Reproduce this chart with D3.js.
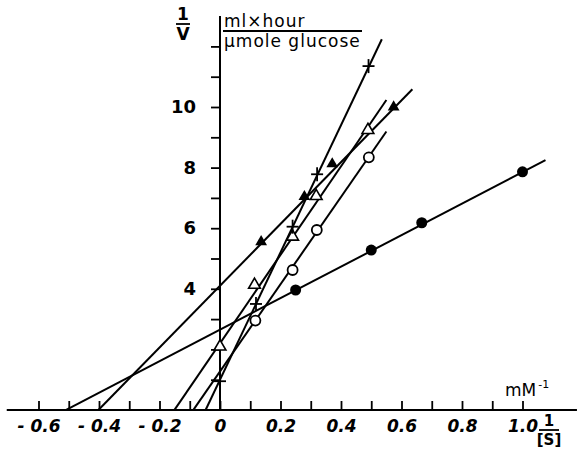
<!DOCTYPE html>
<html>
<head>
<meta charset="utf-8">
<script src="https://cdn.jsdelivr.net/npm/d3@7"></script>
<style>
  html, body { margin: 0; padding: 0; background: #fff; }
  svg { display: block; }
  text { font-family: "DejaVu Sans", sans-serif; fill: #000; }
</style>
</head>
<body>
<svg id="chart" width="578" height="450"></svg>
<script>
// ---- data ----
const xTickValues = [-0.6,-0.5,-0.4,-0.3,-0.2,-0.1,0,0.1,0.2,0.3,0.4,0.5,0.6,0.7,0.8,0.9,1.0];
const xTickLabels = ["- 0.6","","- 0.4","","- 0.2","","0","","0.2","","0.4","","0.6","","0.8","","1.0"];
const yTickValues = [1,2,3,4,5,6,7,8,9,10,11,12];
const yTickLabels = ["","","","4","","6","","8","","10","",""];

const filledCircleX = [0.25, 0.5, 0.667, 1.0];
const filledCircleY = [3.96, 5.28, 6.18, 7.86];
const filledTriX = [0.136, 0.279, 0.371, 0.574];
const filledTriY = [5.55, 7.04, 8.12, 10.0];
const plusX = [0, 0.119, 0.24, 0.321, 0.491];
const plusY = [0.95, 3.5, 6.05, 7.78, 11.35];
const openCircleX = [0.117, 0.24, 0.32, 0.492];
const openCircleY = [2.95, 4.62, 5.94, 8.34];
const openTriX = [0, 0.114, 0.24, 0.318, 0.489];
const openTriY = [2.09, 4.13, 5.72, 7.06, 9.24];

// fitted lines: intercept, slope, x-range
const lineNames      = ["filledCircle","filledTri","plus","openCircle","openTri"];
const lineIntercepts = [2.65, 4.1, 1.0, 1.27, 2.2];
const lineSlopes     = [5.2, 10.2, 21.0, 14.4, 14.6];
const lineStartX     = [-0.51, -0.402, -0.048, -0.088, -0.151];
const lineEndX       = [1.076, 0.636, 0.535, 0.55, 0.55];

// ---- scales ----
const svg = d3.select("#chart");
const x = d3.scaleLinear().domain([-0.6, 1.0]).range([38.5, 522.5]);
const y = d3.scaleLinear().domain([0, 10]).range([410, 107]);

// ---- axes ----
svg.append("line")
  .attr("x1", x(-0.705)).attr("x2", x(1.18))
  .attr("y1", y(0)).attr("y2", y(0))
  .attr("stroke", "#000").attr("stroke-width", 2);
svg.append("line")
  .attr("x1", x(0)).attr("x2", x(0))
  .attr("y1", y(0)).attr("y2", y(13))
  .attr("stroke", "#000").attr("stroke-width", 2);

const xAxis = d3.axisBottom(x)
  .tickValues(xTickValues)
  .tickSizeInner(-9).tickSizeOuter(0).tickPadding(12)
  .tickFormat((d, i) => xTickLabels[i]);
const gx = svg.append("g").attr("transform", `translate(0,${y(0)})`).call(xAxis);
gx.select(".domain").remove();
gx.selectAll(".tick line").attr("stroke", "#000").attr("stroke-width", 1.8);
gx.selectAll(".tick text")
  .attr("font-size", 17).attr("font-style", "italic").attr("font-weight", "bold")
  .attr("font-family", "DejaVu Sans, sans-serif").attr("dy", "0.75em").attr("y", 9);

const yAxis = d3.axisLeft(y)
  .tickValues(yTickValues)
  .tickSizeInner(9).tickSizeOuter(0).tickPadding(15)
  .tickFormat((d, i) => yTickLabels[i]);
const gy = svg.append("g").attr("transform", `translate(${x(0)},0)`).call(yAxis);
gy.select(".domain").remove();
gy.selectAll(".tick line").attr("stroke", "#000").attr("stroke-width", 1.8);
gy.selectAll(".tick text")
  .attr("font-size", 18).attr("font-weight", "bold")
  .attr("font-family", "DejaVu Sans, sans-serif");

// ---- fitted lines ----
lineNames.forEach((n, i) => {
  const a = lineIntercepts[i], b = lineSlopes[i];
  svg.append("line")
    .attr("x1", x(lineStartX[i])).attr("y1", y(a + b * lineStartX[i]))
    .attr("x2", x(lineEndX[i])).attr("y2", y(a + b * lineEndX[i]))
    .attr("stroke", "#000").attr("stroke-width", 2);
});

// ---- markers ----
const zip = (xs, ys) => xs.map((v, i) => [v, ys[i]]);

svg.append("g").selectAll("circle").data(zip(filledCircleX, filledCircleY)).join("circle")
  .attr("cx", d => x(d[0])).attr("cy", d => y(d[1])).attr("r", 5.5).attr("fill", "#000");

svg.append("g").selectAll("circle").data(zip(openCircleX, openCircleY)).join("circle")
  .attr("cx", d => x(d[0])).attr("cy", d => y(d[1])).attr("r", 5)
  .attr("fill", "#fff").attr("stroke", "#000").attr("stroke-width", 1.8);

const tri = d3.symbol().type(d3.symbolTriangle).size(60);
svg.append("g").selectAll("path").data(zip(filledTriX, filledTriY)).join("path")
  .attr("d", tri).attr("transform", d => `translate(${x(d[0])},${y(d[1])})`)
  .attr("fill", "#000");

svg.append("g").selectAll("path").data(zip(openTriX, openTriY)).join("path")
  .attr("d", tri).attr("transform", d => `translate(${x(d[0])},${y(d[1])})`)
  .attr("fill", "#fff").attr("stroke", "#000").attr("stroke-width", 1.6);

const plusG = svg.append("g").selectAll("g").data(zip(plusX, plusY)).join("g")
  .attr("transform", d => `translate(${x(d[0])},${y(d[1])})`);
plusG.append("line").attr("x1", -6).attr("x2", 6).attr("y1", 0).attr("y2", 0)
  .attr("stroke", "#000").attr("stroke-width", 1.8);
plusG.append("line").attr("x1", 0).attr("x2", 0).attr("y1", -7).attr("y2", 7)
  .attr("stroke", "#000").attr("stroke-width", 1.8);

// ---- axis titles ----
const yLab = svg.append("g").attr("font-weight", "bold").attr("font-size", 17);
yLab.append("text").attr("x", 183).attr("y", 20).attr("text-anchor", "middle").text("1");
yLab.append("line").attr("x1", 176).attr("x2", 190).attr("y1", 24).attr("y2", 24)
  .attr("stroke", "#000").attr("stroke-width", 1.8);
yLab.append("text").attr("x", 183).attr("y", 40).attr("text-anchor", "middle").text("V");

const unit = svg.append("g").attr("font-size", 17).attr("letter-spacing", 1);
unit.append("text").attr("x", 224).attr("y", 27).text("ml×hour");
unit.append("line").attr("x1", 223).attr("x2", 362).attr("y1", 31).attr("y2", 31)
  .attr("stroke", "#000").attr("stroke-width", 1.8);
unit.append("text").attr("x", 224).attr("y", 47).text("μmole glucose");

const sLab = svg.append("g").attr("font-size", 15).attr("font-weight", "bold");
sLab.append("text").attr("x", 549).attr("y", 426).attr("text-anchor", "middle").text("1");
sLab.append("line").attr("x1", 539).attr("x2", 559).attr("y1", 430).attr("y2", 430)
  .attr("stroke", "#000").attr("stroke-width", 1.8);
sLab.append("text").attr("x", 549).attr("y", 445).attr("text-anchor", "middle").text("[S]");

const mm = svg.append("text").attr("x", 505).attr("y", 396).attr("font-size", 17);
mm.append("tspan").text("mM");
mm.append("tspan").attr("font-size", 11).attr("dy", -8).attr("dx", 2).text("-1");
</script>
</body>
</html>
